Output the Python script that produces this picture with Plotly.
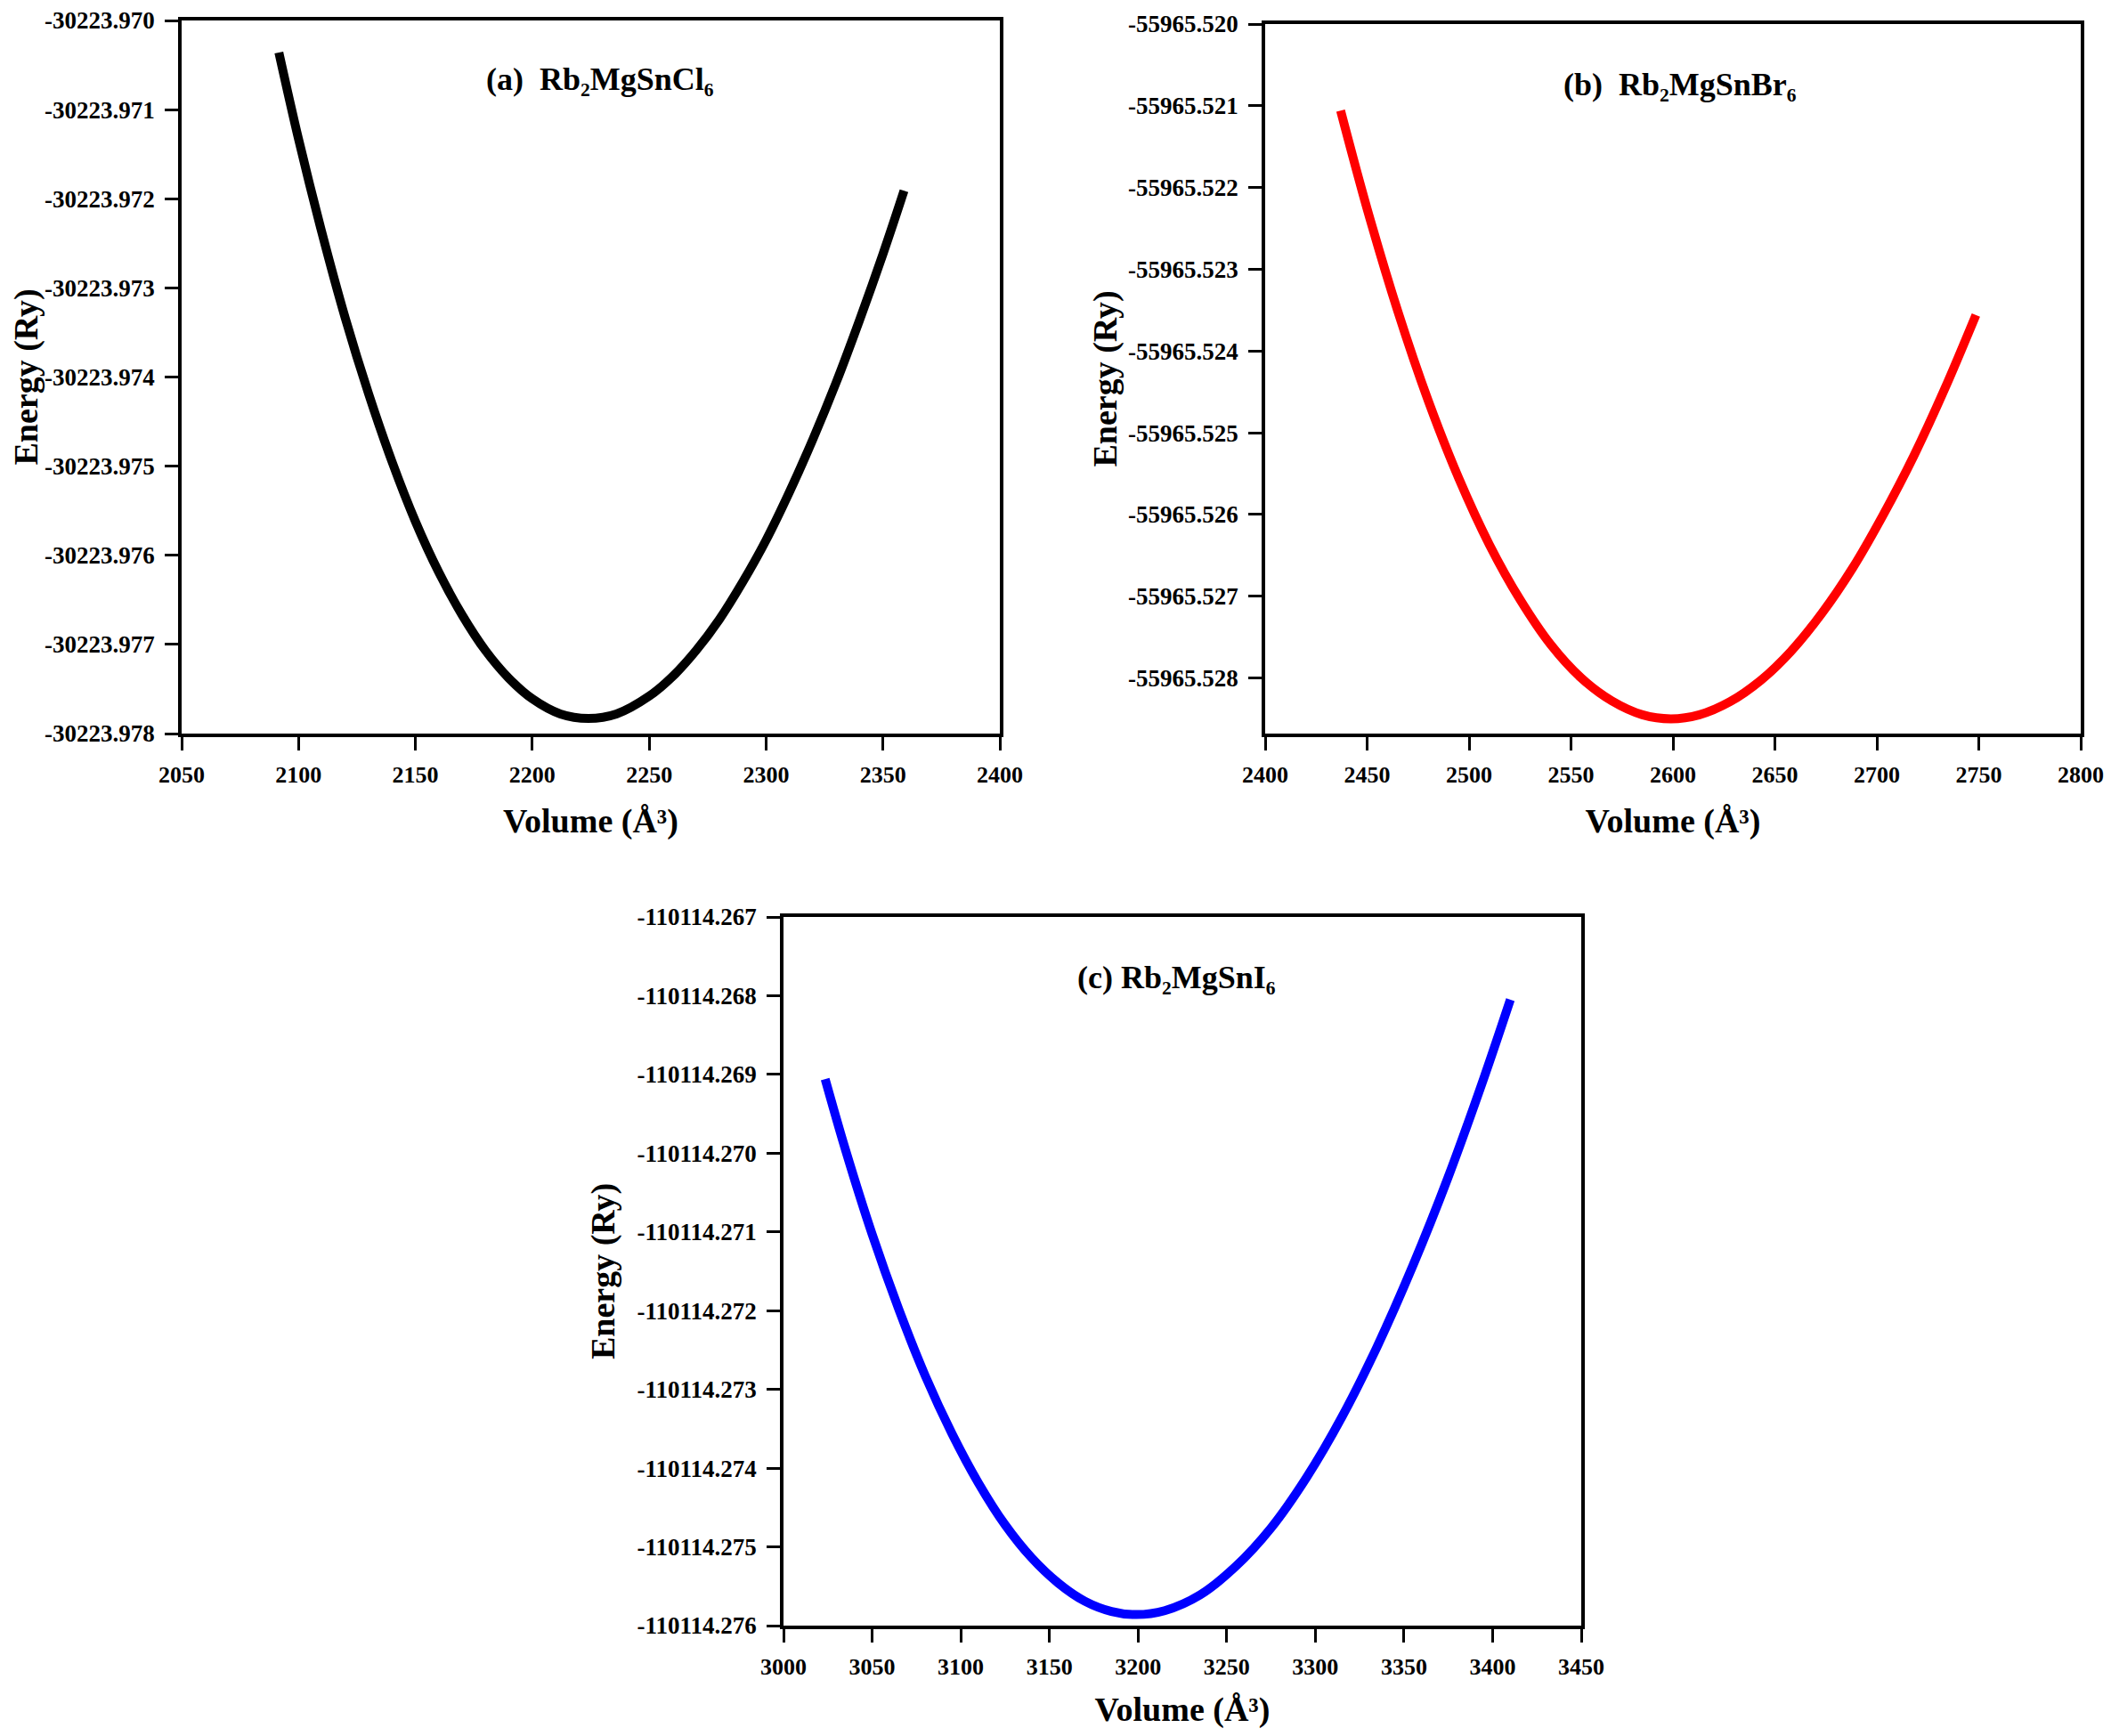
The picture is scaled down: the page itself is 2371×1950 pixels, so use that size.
import plotly.graph_objects as go

# ---------------- data ----------------
# (a) Rb2MgSnCl6
volume_a = [2091.6, 2100, 2110, 2120, 2130, 2140, 2150, 2160, 2170, 2180, 2190, 2200, 2212, 2224,
            2236, 2250, 2260, 2270, 2280, 2290, 2300, 2310, 2320, 2330, 2340, 2350, 2359]
energy_a = [-30223.97036, -30223.97133, -30223.97238, -30223.97334, -30223.97419, -30223.97495,
            -30223.97562, -30223.97619, -30223.97667, -30223.97707, -30223.97738, -30223.97761,
            -30223.97778, -30223.97783, -30223.97778, -30223.97758, -30223.97736, -30223.97707,
            -30223.97672, -30223.97630, -30223.97583, -30223.97529, -30223.97470, -30223.97406,
            -30223.97336, -30223.97262, -30223.97191]

# (b) Rb2MgSnBr6
volume_b = [2437, 2450, 2465, 2480, 2495, 2510, 2525, 2540, 2555, 2570, 2585, 2599,
            2613, 2628, 2643, 2658, 2673, 2688, 2703, 2718, 2733, 2748.6]
energy_b = [-55965.52106, -55965.52226, -55965.52351, -55965.52461, -55965.52556, -55965.52637,
            -55965.52704, -55965.52759, -55965.52800, -55965.52828, -55965.52845, -55965.52850,
            -55965.52845, -55965.52829, -55965.52803, -55965.52767, -55965.52721, -55965.52666,
            -55965.52601, -55965.52529, -55965.52448, -55965.52356]

# (c) Rb2MgSnI6
volume_c = [3023.5, 3035, 3050, 3065, 3080, 3095, 3110, 3125, 3140, 3155, 3170, 3185, 3199,
            3215, 3235, 3255, 3275, 3295, 3315, 3335, 3355, 3375, 3395, 3410]
energy_c = [-110114.26906, -110114.26996, -110114.27103, -110114.27198, -110114.27283,
            -110114.27356, -110114.27419, -110114.27472, -110114.27514, -110114.27546,
            -110114.27569, -110114.27582, -110114.27586, -110114.27581, -110114.27561,
            -110114.27525, -110114.27476, -110114.27412, -110114.27335, -110114.27245,
            -110114.27143, -110114.27030, -110114.26905, -110114.26805]

# tick labels
ytick_text_a = ["-30223.970", "-30223.971", "-30223.972", "-30223.973", "-30223.974",
                "-30223.975", "-30223.976", "-30223.977", "-30223.978"]
ytick_text_b = ["-55965.520", "-55965.521", "-55965.522", "-55965.523", "-55965.524",
                "-55965.525", "-55965.526", "-55965.527", "-55965.528"]
ytick_text_c = ["-110114.267", "-110114.268", "-110114.269", "-110114.270", "-110114.271",
                "-110114.272", "-110114.273", "-110114.274", "-110114.275", "-110114.276"]
xtick_a = [2050, 2100, 2150, 2200, 2250, 2300, 2350, 2400]
xtick_b = [2400, 2450, 2500, 2550, 2600, 2650, 2700, 2750, 2800]
xtick_c = [3000, 3050, 3100, 3150, 3200, 3250, 3300, 3350, 3400, 3450]

yrange_b_bottom = -55965.52868

titles = ["(a)\u00a0\u00a0Rb₂MgSnCl₆",
          "(b)\u00a0\u00a0Rb₂MgSnBr₆",
          "(c) Rb₂MgSnI₆"]
x_title = "Volume (Å³)"
y_title = "Energy (Ry)"

# ---------------- figure ----------------
OFF = 8                       # default page body margin
W, H = 2371 - 2 * OFF, 1950 - 2 * OFF
FONT = "Liberation Serif"

fig = go.Figure()
fig.add_trace(go.Scatter(x=volume_a, y=energy_a, mode="lines",
                         line=dict(color="black", width=10, shape="spline"),
                         xaxis="x", yaxis="y", showlegend=False))
fig.add_trace(go.Scatter(x=volume_b, y=energy_b, mode="lines",
                         line=dict(color="#FF0000", width=10, shape="spline"),
                         xaxis="x2", yaxis="y2", showlegend=False))
fig.add_trace(go.Scatter(x=volume_c, y=energy_c, mode="lines",
                         line=dict(color="#0000FF", width=10, shape="spline"),
                         xaxis="x3", yaxis="y3", showlegend=False))

xtickfont = dict(family=FONT, size=26, color="black", weight="bold")
ytickfont = dict(family=FONT, size=27, color="black", weight="bold")
titlefont = dict(family=FONT, size=38, color="black", weight="bold")


def xaxis(dom, anchor, rng, ticks):
    return dict(domain=dom, anchor=anchor, range=rng, tickvals=ticks, ticktext=[str(t) for t in ticks],
                showline=True, linewidth=3.5, linecolor="black", mirror=True,
                ticks="outside", ticklen=15, tickwidth=3, tickcolor="black",
                showgrid=False, zeroline=False, tickfont=xtickfont, automargin=False,
                ticklabelstandoff=5, ticklabeloverflow="allow",
                title=dict(text=x_title, font=titlefont, standoff=25))


def yaxis(dom, anchor, rng, ttext, standoff):
    return dict(domain=dom, anchor=anchor, range=rng, tickvals=[float(t) for t in ttext], ticktext=ttext,
                showline=True, linewidth=3.5, linecolor="black", mirror=True,
                ticks="outside", ticklen=15, tickwidth=3, tickcolor="black",
                showgrid=False, zeroline=False, tickfont=ytickfont, automargin=False,
                ticklabelstandoff=6, ticklabeloverflow="allow",
                title=dict(text=y_title, font=titlefont, standoff=standoff))


def px_x(a, b):
    return [(a - OFF) / W, (b - OFF) / W]


def px_y(top, bottom):
    return [1 - (bottom - OFF) / H, 1 - (top - OFF) / H]


fig.update_layout(
    width=W, height=H, autosize=False,
    margin=dict(l=0, r=0, t=0, b=0),
    paper_bgcolor="white", plot_bgcolor="white",
    xaxis=xaxis(px_x(204, 1123), "y", [xtick_a[0], xtick_a[-1]], xtick_a),
    yaxis=yaxis(px_y(23, 824), "x", [float(ytick_text_a[-1]), float(ytick_text_a[0])], ytick_text_a, 24),
    xaxis2=xaxis(px_x(1421, 2337), "y2", [xtick_b[0], xtick_b[-1]], xtick_b),
    yaxis2=yaxis(px_y(27, 824), "x2", [yrange_b_bottom, float(ytick_text_b[0])], ytick_text_b, 2),
    xaxis3=xaxis(px_x(880, 1776), "y3", [xtick_c[0], xtick_c[-1]], xtick_c),
    yaxis3=yaxis(px_y(1030, 1826), "x3", [float(ytick_text_c[-1]), float(ytick_text_c[0])], ytick_text_c, 14),
)

title_pos = [(674, 89), (1887, 95), (1321, 1098)]
for t, (cx, cy) in zip(titles, title_pos):
    fig.add_annotation(text=t, x=(cx - OFF) / W, y=1 - (cy - OFF) / H, xref="paper", yref="paper",
                       showarrow=False, xanchor="center", yanchor="middle",
                       font=dict(family=FONT, size=36, color="black", weight="bold"))

fig.write_html("out.html")
